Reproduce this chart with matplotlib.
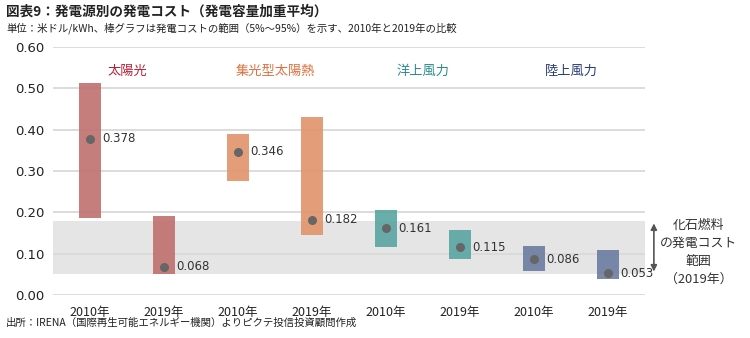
import matplotlib.pyplot as plt
import numpy as np

plt.rcParams['font.family'] = ['Noto Sans CJK JP', 'DejaVu Sans']

sources = ['太陽光', '集光型太陽熱', '洋上風力', '陸上風力']
years = ['2010年', '2019年']
# 5% / 95% range and weighted average, per source, for 2010 and 2019
low = [0.186, 0.052, 0.277, 0.144, 0.115, 0.088, 0.058, 0.038]
high = [0.513, 0.191, 0.390, 0.430, 0.206, 0.157, 0.119, 0.108]
avg = [0.378, 0.068, 0.346, 0.182, 0.161, 0.115, 0.086, 0.053]
fossil_range = (0.05, 0.18)

bar_colors = ['#c0706f', '#e2936b', '#58a5a2', '#6b7ca0']
label_colors = ['#b5203a', '#e0703e', '#2a8a8c', '#2b3d73']

fig = plt.figure(figsize=(7.5, 3.38), dpi=100)
ax = fig.add_axes([0.0707, 0.1272, 0.7893, 0.7337])

x = np.arange(len(avg))
cols = [bar_colors[i // 2] for i in range(len(avg))]

ax.axhspan(*fossil_range, color='#e5e5e5', zorder=0, lw=0)
for y in np.arange(0, 0.61, 0.1):
    ax.axhline(y, color='#d9d9d9', lw=1.3, zorder=0.5)

heights = np.array(high) - np.array(low)
ax.bar(x, heights, bottom=low, width=0.31, color=cols, alpha=0.9, zorder=2,
       edgecolor='none')
ax.scatter(x, avg, s=30, color='#666666', zorder=3)
for xi, v in zip(x, avg):
    ax.text(xi + 0.17, v, f'{v:.3f}', va='center', ha='left', fontsize=8.5,
            color='#333333', family=['DejaVu Sans'], zorder=4)

for i, (name, c) in enumerate(zip(sources, label_colors)):
    ax.text(2 * i + 0.5, 0.54, name, ha='center', va='center', fontsize=9.5, color=c)

ax.set_xlim(-0.5, len(avg) - 0.5)
ax.set_ylim(0, 0.6)
ax.set_xticks(x)
ax.set_xticklabels(years * len(sources), fontsize=9, color='#222222')
ax.set_yticks(np.arange(0, 0.61, 0.1))
ax.set_yticklabels([f'{v:.2f}' for v in np.arange(0, 0.61, 0.1)], fontsize=9.5,
                   color='#222222', family=['DejaVu Sans'])
ax.tick_params(axis='x', length=0, pad=8)
ax.tick_params(axis='y', length=0, pad=6)
for s in ax.spines.values():
    s.set_visible(False)

# arrow + note for the fossil fuel band
ax.annotate('', xy=(7.62, fossil_range[0]), xytext=(7.62, fossil_range[1]),
            xycoords='data', textcoords='data',
            arrowprops=dict(arrowstyle='<|-|>', color='#555555', lw=1.2,
                            mutation_scale=9),
            annotation_clip=False)
fig.text(0.931, 0.254, '化石燃料\nの発電コスト\n範囲\n（2019年）', ha='center',
         va='center', fontsize=9.3, color='#333333', linespacing=1.5)

fig.text(0.008, 0.965, '図表9：発電源別の発電コスト（発電容量加重平均）', fontsize=9.8,
         fontweight='bold', color='#222222', va='center')
fig.text(0.008, 0.918, '単位：米ドル/kWh、棒グラフは発電コストの範囲（5%～95%）を示す、2010年と2019年の比較',
         fontsize=7.5, color='#222222', va='center')
fig.text(0.008, 0.045, '出所：IRENA（国際再生可能エネルギー機関）よりピクテ投信投資顧問作成',
         fontsize=7.5, color='#222222', va='center')

fig.savefig('out.png', dpi=100, facecolor='white')
